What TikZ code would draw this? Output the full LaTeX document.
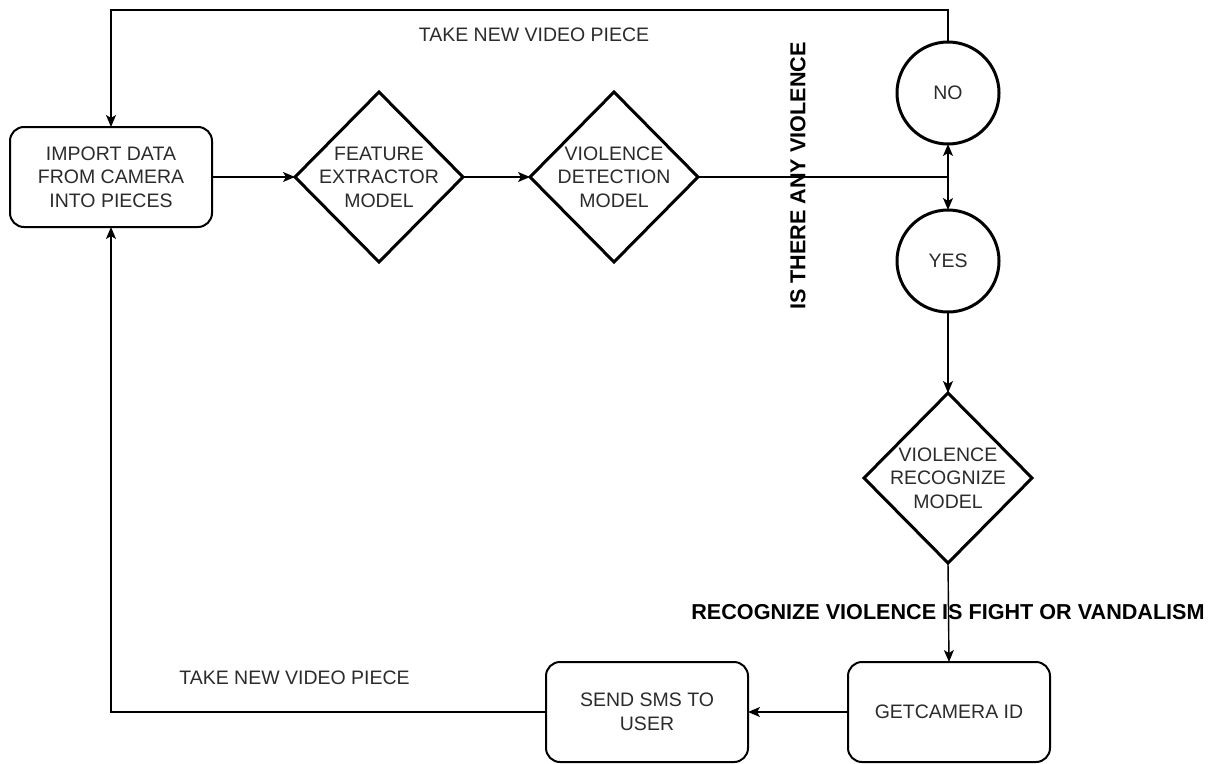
\documentclass[tikz,border=0pt]{standalone}
\usepackage{fontspec}
\setmainfont{Liberation Sans}
\usetikzlibrary{shapes.geometric,arrows.meta}
\definecolor{ink}{HTML}{2B2B2B}
\begin{document}
\begin{tikzpicture}[x=1pt,y=-1pt,
  every node/.style={inner sep=0pt,outer sep=0pt},
  txt/.style={align=center,text=ink,font=\fontsize{19.5}{23.5}\selectfont},
  boldtxt/.style={text=black,font=\fontsize{21.6}{26}\selectfont\bfseries},
  procbox/.style={draw,line width=2pt,rounded corners=14pt,minimum width=202pt,minimum height=100pt},
  dia/.style={draw,line width=3pt,shape=diamond,minimum width=168pt,minimum height=170pt},
  decision/.style={draw,line width=3pt,circle,minimum size=102pt},
  conn/.style={line width=1.4pt,-{Stealth[length=12pt,width=10pt,inset=3pt]}},
  plain/.style={line width=1.4pt}]
\useasboundingbox (0,0) rectangle (1217,763);

% process boxes
\node[procbox] (imp) at (111,177) {};
\node[txt] (imp-t) at (imp) {IMPORT DATA\\FROM CAMERA\\INTO PIECES};
\node[procbox] (cam) at (949,712) {};
\node[txt] (cam-t) at (cam) {GETCAMERA ID};
\node[procbox] (sms) at (647,712) {};
\node[txt] (sms-t) at (sms) {SEND SMS TO\\USER};

% model diamonds
\node[dia] (fe) at (379,177) {};
\node[txt] (fe-t) at (fe) {FEATURE\\EXTRACTOR\\MODEL};
\node[dia] (det) at (614,177) {};
\node[txt] (det-t) at (det) {VIOLENCE\\DETECTION\\MODEL};
\node[dia] (rec) at (948,478) {};
\node[txt] (rec-t) at (rec) {VIOLENCE\\RECOGNIZE\\MODEL};

% decision circles
\node[decision] (no) at (948,93) {};
\node[txt] (no-t) at (no) {NO};
\node[decision] (yes) at (948,261) {};
\node[txt] (yes-t) at (yes) {YES};

% junction between the two answers
\coordinate (j) at (948,177);
\coordinate (top) at (948,10);

% connectors
\draw[conn] (imp.east) -- (fe.west);
\draw[conn] (fe.east) -- (det.west);
\draw[plain] (det.east) -- (j);
\draw[conn] (j) -- (no.south);
\draw[conn] (j) -- (yes.north);
\draw[conn] (no.north) -- (top) -| (imp.north);
\draw[conn] (yes.south) -- (rec.north);
\draw[conn] (rec.south) -- (cam.north);
\draw[conn] (cam.west) -- (sms.east);
\draw[conn] (sms.west) -| (imp.south);

% labels
\node[txt] (lbl-top) at (534,35) {TAKE NEW VIDEO PIECE};
\node[txt] (lbl-bot) at (294.5,678) {TAKE NEW VIDEO PIECE};
\node[boldtxt,rotate=90] (lbl-q) at (798,176) {IS THERE ANY VIOLENCE};
\node[boldtxt] (lbl-rec) at (948,612) {RECOGNIZE VIOLENCE IS FIGHT OR VANDALISM};
\end{tikzpicture}
\end{document}
